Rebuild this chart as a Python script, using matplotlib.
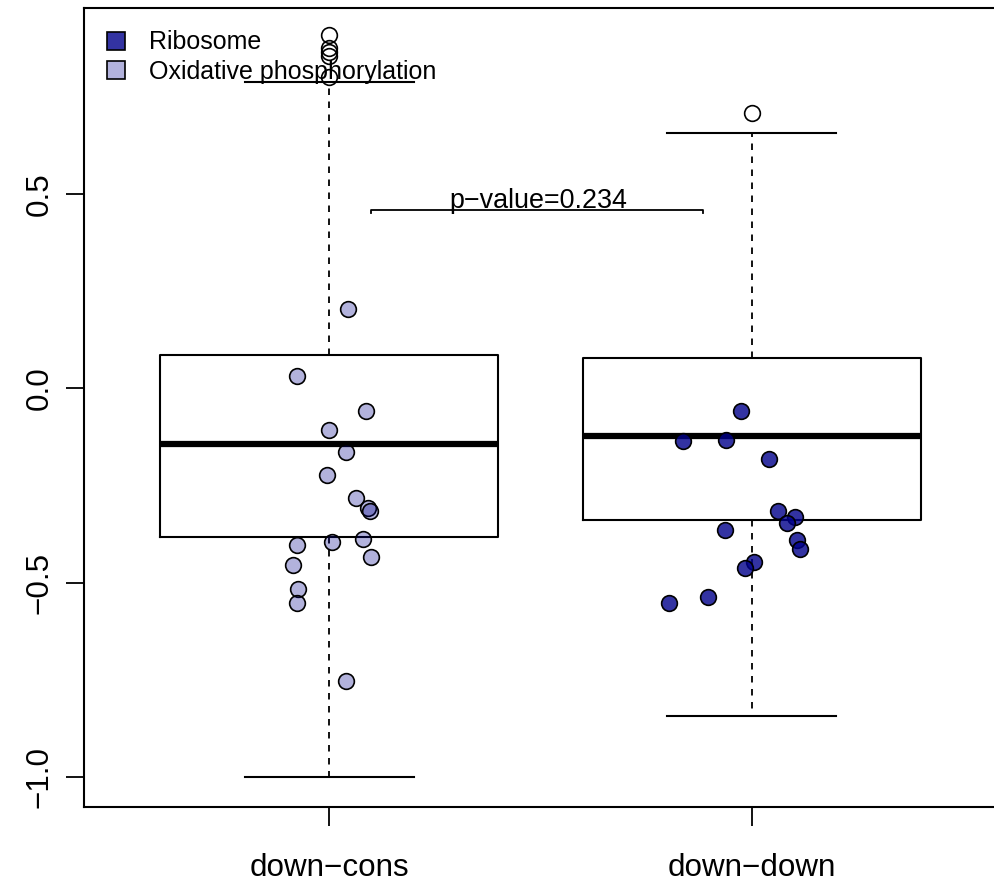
import matplotlib
matplotlib.use("Agg")
import matplotlib.pyplot as plt
from matplotlib.lines import Line2D

plt.rcParams["font.family"] = ["Liberation Sans", "DejaVu Sans"]

# ---------------------------------------------------------------------------
# Data
# ---------------------------------------------------------------------------
groups = ["down\u2212cons", "down\u2212down"]
positions = [1, 2]

# boxplot summary per group: whislo, q1, med, q3, whishi
whislo = [-1.000, -0.843]
q1 = [-0.383, -0.339]
med = [-0.143, -0.122]
q3 = [0.085, 0.077]
whishi = [0.788, 0.657]
fliers_cons = [0.909, 0.876, 0.865, 0.855, 0.801]
fliers_down = [0.708]

# jittered pathway genes: group 1 = Oxidative phosphorylation
oxphos_x = [1.044, 0.925, 1.087, 1.000, 1.040, 0.994, 1.064, 1.093, 1.097,
            0.925, 1.006, 1.081, 1.099, 0.915, 0.926, 0.923, 1.041]
oxphos_y = [0.203, 0.032, -0.058, -0.107, -0.163, -0.223, -0.282, -0.309,
            -0.316, -0.404, -0.396, -0.387, -0.435, -0.455, -0.517, -0.552,
            -0.752]
# group 2 = Ribosome
ribo_x = [1.974, 1.837, 1.940, 2.040, 2.063, 2.101, 2.082, 1.936, 2.108,
          2.115, 2.006, 1.983, 1.897, 1.803]
ribo_y = [-0.058, -0.136, -0.133, -0.183, -0.316, -0.330, -0.347, -0.365,
          -0.391, -0.413, -0.448, -0.463, -0.538, -0.553]

pvalue_label = "p\u2212value=0.234"
legend_labels = ["Ribosome", "Oxidative phosphorylation"]
yticks = [-1.0, -0.5, 0.0, 0.5]
ytick_labels = ["\u22121.0", "\u22120.5", "0.0", "0.5"]

DARK = (0.0, 0.0, 0.545, 0.8)
LIGHT = (0.0, 0.0, 0.545, 0.3)

# ---------------------------------------------------------------------------
# Figure
# ---------------------------------------------------------------------------
W, H = 994, 882
fig = plt.figure(figsize=(W / 100, H / 100), dpi=100)
ax = fig.add_axes([84 / W, 1 - 807 / H, (997 - 84) / W, (807 - 8) / H])

stats = []
fl = [fliers_cons, fliers_down]
for i in range(2):
    stats.append(dict(med=med[i], q1=q1[i], q3=q3[i], whislo=whislo[i],
                      whishi=whishi[i], fliers=fl[i]))

ax.bxp(stats, positions=positions, widths=0.8, capwidths=0.4,
       showfliers=True,
       boxprops=dict(color="black", linewidth=1.5),
       medianprops=dict(color="black", linewidth=4.5, solid_capstyle="butt"),
       whiskerprops=dict(color="black", linewidth=1.3,
                         linestyle=(0, (3.6, 3.6))),
       capprops=dict(color="black", linewidth=1.5),
       flierprops=dict(marker="o", markersize=11.3, markerfacecolor="none",
                       markeredgecolor="black", markeredgewidth=1.2))

ax.plot(oxphos_x, oxphos_y, ls="", marker="o", markersize=11.3,
        markerfacecolor=LIGHT, markeredgecolor="black", markeredgewidth=1.2,
        zorder=4)
ax.plot(ribo_x, ribo_y, ls="", marker="o", markersize=11.3,
        markerfacecolor=DARK, markeredgecolor="black", markeredgewidth=1.2,
        zorder=4)

# significance bracket
bx0, bx1, by = 1.0995, 1.884, 0.459
ax.plot([bx0, bx0, bx1, bx1], [by - 0.008, by, by, by - 0.008],
        color="black", lw=1.3, zorder=3)
ax.text((bx0 + bx1) / 2 + 0.003, 0.4646, pvalue_label, ha="center",
        va="baseline", fontsize=19.4)

ax.set_xlim(0.42, 2.58)
ax.set_ylim(-1.077, 0.978)

ax.set_xticks(positions)
ax.set_xticklabels(groups, fontsize=22.6)
ax.set_yticks(yticks)
ax.set_yticklabels(ytick_labels, fontsize=22.6, rotation=90, va="center")
ax.tick_params(axis="y", length=13, width=1.3, pad=8)
ax.tick_params(axis="x", length=14, width=1.3, pad=19)
for sp in ax.spines.values():
    sp.set_linewidth(1.5)

handles = [Line2D([], [], ls="", marker="s", markersize=12.5,
                  markerfacecolor=c, markeredgecolor="black",
                  markeredgewidth=1.2) for c in (DARK, LIGHT)]
ax.legend(handles, legend_labels, loc="upper left",
          bbox_to_anchor=(0.0214, 0.972), frameon=False, fontsize=18,
          borderaxespad=0, borderpad=0, labelspacing=0.21,
          handlelength=1.0, handletextpad=0.82)

fig.savefig("out.png", dpi=100)
